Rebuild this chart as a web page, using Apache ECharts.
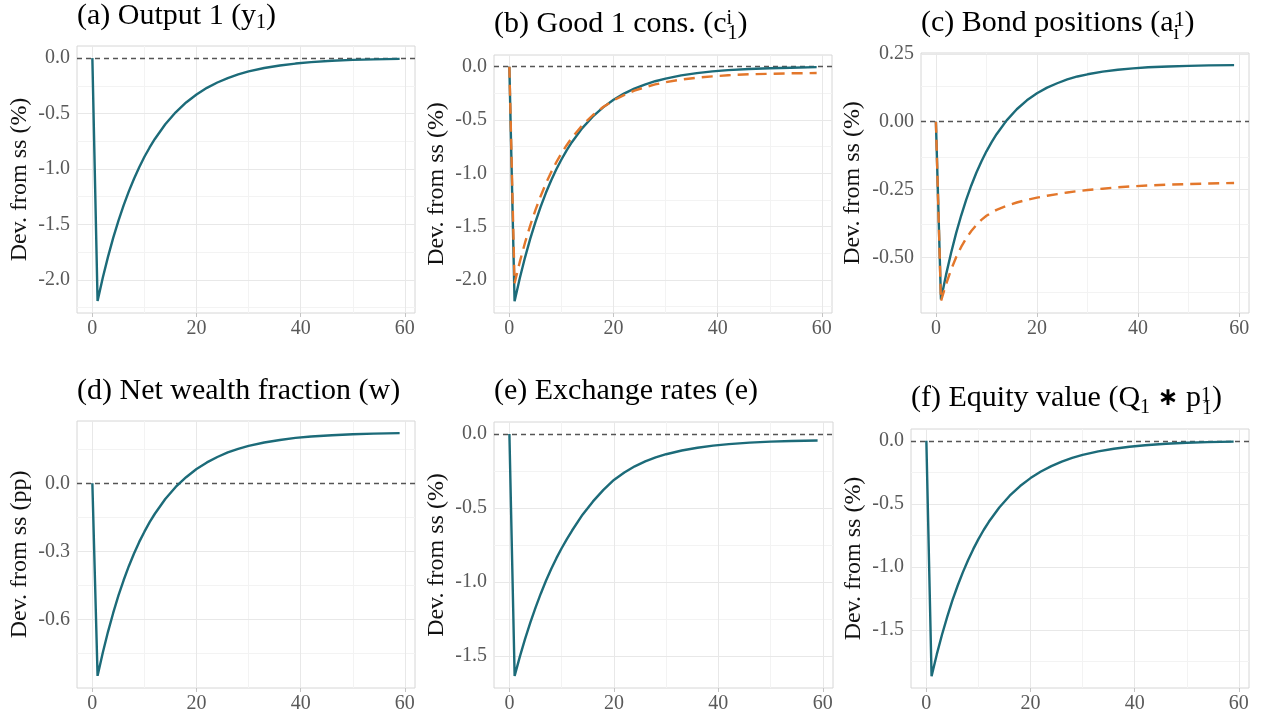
<!DOCTYPE html>
<html lang="en">
<head>
<meta charset="UTF-8">
<title>Impulse responses</title>
<script src="https://cdn.jsdelivr.net/npm/echarts@6/dist/echarts.min.js"></script>
<style>
html,body{margin:0;padding:0;background:#fff;}
#main{width:1261px;height:714px;}
</style>
</head>
<body>
<div id="main"></div>
<script>
// quarters after the shock
var periods = [0,1,2,3,4,5,6,7,8,9,10,11,12,14,16,18,20,22,24,26,28,30,33,36,39,42,46,50,54,59];
var xTicks = [0,20,40,60];
var xMinor = [10,30,50];

// (a) output 1
var output1 = [0,-2.19,-1.982,-1.793,-1.622,-1.468,-1.328,-1.202,-1.088,-0.984,-0.89,-0.806,-0.729,-0.597,-0.489,-0.4,-0.328,-0.268,-0.22,-0.18,-0.147,-0.12,-0.089,-0.066,-0.049,-0.036,-0.024,-0.016,-0.011,-0.007];
// (b) good 1 consumption, household 1 (solid) and household 2 (dashed)
var cons1Home = [0,-2.2,-1.984,-1.79,-1.615,-1.457,-1.314,-1.185,-1.069,-0.964,-0.87,-0.785,-0.708,-0.576,-0.469,-0.381,-0.31,-0.252,-0.205,-0.167,-0.136,-0.111,-0.081,-0.06,-0.044,-0.032,-0.021,-0.014,-0.009,-0.004];
var cons1Foreign = [0,-2.03,-1.831,-1.651,-1.49,-1.345,-1.215,-1.097,-0.992,-0.897,-0.812,-0.736,-0.667,-0.55,-0.455,-0.378,-0.316,-0.266,-0.225,-0.193,-0.166,-0.145,-0.12,-0.103,-0.09,-0.08,-0.071,-0.066,-0.062,-0.059];
// (c) bond positions
var bondHome = [0,-0.656,-0.565,-0.484,-0.411,-0.346,-0.287,-0.235,-0.188,-0.147,-0.109,-0.076,-0.046,0.005,0.046,0.079,0.105,0.126,0.142,0.156,0.167,0.175,0.185,0.192,0.197,0.201,0.204,0.206,0.208,0.209];
var bondForeign = [0,-0.662,-0.6,-0.546,-0.5,-0.462,-0.43,-0.403,-0.381,-0.362,-0.347,-0.335,-0.325,-0.31,-0.298,-0.288,-0.28,-0.273,-0.267,-0.261,-0.256,-0.252,-0.247,-0.242,-0.238,-0.235,-0.232,-0.23,-0.228,-0.226];
// (d) net wealth fraction
var wealthShare = [0,-0.848,-0.746,-0.654,-0.571,-0.495,-0.427,-0.365,-0.309,-0.258,-0.213,-0.171,-0.134,-0.069,-0.016,0.027,0.063,0.092,0.116,0.136,0.152,0.165,0.18,0.191,0.2,0.206,0.212,0.216,0.219,0.221];
// (e) exchange rate
var exchRate = [0,-1.635,-1.505,-1.385,-1.275,-1.173,-1.079,-0.992,-0.912,-0.839,-0.772,-0.71,-0.652,-0.545,-0.455,-0.377,-0.31,-0.26,-0.218,-0.185,-0.158,-0.136,-0.111,-0.092,-0.078,-0.068,-0.058,-0.051,-0.047,-0.043];
// (f) equity value
var equityValue = [0,-1.868,-1.695,-1.539,-1.397,-1.267,-1.15,-1.044,-0.948,-0.86,-0.78,-0.708,-0.643,-0.529,-0.436,-0.359,-0.296,-0.244,-0.201,-0.165,-0.136,-0.112,-0.084,-0.063,-0.047,-0.035,-0.024,-0.016,-0.011,-0.007];

var teal = '#1c6b79';
var orange = '#e3772b';
var serif = 'Liberation Serif';

var panels = [
	{title:'(a) Output 1 (y{aSub|1})', left:77, top:46, w:338, h:267, tTop:-2, tLeft:77,
		yMin:-2.2995, yMax:0.1095, yTicks:[-2,-1.5,-1,-0.5,0], yMinor:[-2.25,-1.75,-1.25,-0.75,-0.25], dig:1,
		yName:'Dev. from ss (%)', gap:45, solid:output1, dashed:null},
	{title:'(b) Good 1 cons. (c{bSup|i}{bSub|1})', left:494, top:55, w:338, h:258, tTop:6, tLeft:494,
		yMin:-2.31, yMax:0.11, yTicks:[-2,-1.5,-1,-0.5,0], yMinor:[-2.25,-1.75,-1.25,-0.75,-0.25], dig:1,
		yName:'Dev. from ss (%)', gap:45, solid:cons1Home, dashed:cons1Foreign},
	{title:'(c) Bond positions (a{cSub|i}{cSup|1})', left:921, top:53, w:328, h:260, tTop:5, tLeft:921,
		yMin:-0.7056, yMax:0.2536, yTicks:[-0.5,-0.25,0,0.25], yMinor:[-0.625,-0.375,-0.125,0.125], dig:2,
		yName:'Dev. from ss (%)', gap:56, solid:bondHome, dashed:bondForeign},
	{title:'(d) Net wealth fraction (w)', left:77, top:421, w:338, h:267, tTop:373, tLeft:77,
		yMin:-0.9015, yMax:0.2745, yTicks:[-0.6,-0.3,0], yMinor:[-0.75,-0.45,-0.15,0.15], dig:1,
		yName:'Dev. from ss (pp)', gap:45, solid:wealthShare, dashed:null},
	{title:'(e) Exchange rates (e)', left:494, top:422, w:339, h:266, tTop:373, tLeft:494,
		yMin:-1.7168, yMax:0.0818, yTicks:[-1.5,-1,-0.5,0], yMinor:[-1.25,-0.75,-0.25], dig:1,
		yName:'Dev. from ss (%)', gap:45, solid:exchRate, dashed:null},
	{title:'(f) Equity value (Q{fSubQ|1} {ast|∗} p{fSup|1}{fSub|1})', left:911, top:429, w:338, h:259, tTop:380, tLeft:911,
		yMin:-1.9614, yMax:0.0934, yTicks:[-1.5,-1,-0.5,0], yMinor:[-1.75,-1.25,-0.75,-0.25], dig:1,
		yName:'Dev. from ss (%)', gap:45, solid:equityValue, dashed:null}
];

function sc(pad, w){
	var s = {fontFamily:serif, fontSize:20, color:'#000', lineHeight:36, padding:pad};
	if(w != null) s.width = w;
	return s;
}
var richStyles = {
	aSub: sc([13,0,0,0]),
	bSup: sc([0,0,10,0], 1),
	bSub: sc([20,0,0,0]),
	cSub: sc([22,0,0,0], 1),
	cSup: sc([0,0,4,0]),
	fSubQ: sc([19,0,0,0]),
	fSup: sc([0,0,4,0], 1),
	fSub: sc([22,0,0,0]),
	ast: {fontFamily:'DejaVu Sans', fontSize:25, fontWeight:'bold', color:'#000', lineHeight:36}
};

function pairs(vals){
	var out = [];
	for(var i=0;i<periods.length;i++){
		out.push([periods[i], vals[i]]);
	}
	return out;
}

var option = {animation:false, backgroundColor:'#fff', title:[], grid:[], xAxis:[], yAxis:[], series:[]};

panels.forEach(function(p, i){
	option.title.push({
		text: p.title, left: p.tLeft, top: p.tTop, padding: 0,
		textStyle: {fontFamily:serif, fontSize:30, fontWeight:'normal', color:'#000', lineHeight:36, rich: richStyles}
	});
	option.grid.push({
		left:p.left, top:p.top, width:p.w, height:p.h, show:true,
		borderColor:'#d6d6d6', borderWidth:1, backgroundColor:'#fff'
	});
	option.xAxis.push({
		type:'value', gridIndex:i, min:-2.95, max:61.95,
		axisLine:{show:false, onZero:false},
		axisTick:{show:true, customValues:xTicks, length:4, lineStyle:{color:'#c4c4c4'}},
		axisLabel:{customValues:xTicks, color:'#595959', fontFamily:serif, fontSize:20, margin:6},
		splitLine:{show:false}
	});
	option.yAxis.push({
		type:'value', gridIndex:i, min:p.yMin, max:p.yMax,
		name:p.yName, nameLocation:'middle', nameRotate:90, nameGap:p.gap,
		nameTextStyle:{fontFamily:serif, fontSize:24, color:'#111'},
		axisLine:{show:false},
		axisTick:{show:true, customValues:p.yTicks, length:4, lineStyle:{color:'#c4c4c4'}},
		axisLabel:{customValues:p.yTicks, color:'#595959', fontFamily:serif, fontSize:20, margin:7,
			formatter:(function(d){ return function(v){ return Number(v).toFixed(d); }; })(p.dig)},
		splitLine:{show:false}
	});

	// panel grid and the dashed zero line
	var lines = [];
	xMinor.forEach(function(v){ lines.push({xAxis:v, lineStyle:{color:'#f3f3f3', width:1, type:'solid'}}); });
	p.yMinor.forEach(function(v){ lines.push({yAxis:v, lineStyle:{color:'#f3f3f3', width:1, type:'solid'}}); });
	xTicks.forEach(function(v){ lines.push({xAxis:v, lineStyle:{color:'#e8e8e8', width:1, type:'solid'}}); });
	p.yTicks.forEach(function(v){ if(v !== 0) lines.push({yAxis:v, lineStyle:{color:'#e8e8e8', width:1, type:'solid'}}); });
	lines.push({yAxis:0, lineStyle:{color:'#555', width:1.3, type:[5,4]}});

	option.series.push({
		type:'line', xAxisIndex:i, yAxisIndex:i, data:pairs(p.solid),
		showSymbol:false, symbol:'none', lineStyle:{color:teal, width:2.4}, z:3,
		markLine:{silent:true, z:1, symbol:['none','none'], label:{show:false}, animation:false, data:lines}
	});
	if(p.dashed){
		option.series.push({
			type:'line', xAxisIndex:i, yAxisIndex:i, data:pairs(p.dashed),
			showSymbol:false, symbol:'none', lineStyle:{color:orange, width:2.4, type:[11,7]}, z:4
		});
	}
});

var myChart = echarts.init(document.getElementById('main'));
myChart.setOption(option);
</script>
</body>
</html>
